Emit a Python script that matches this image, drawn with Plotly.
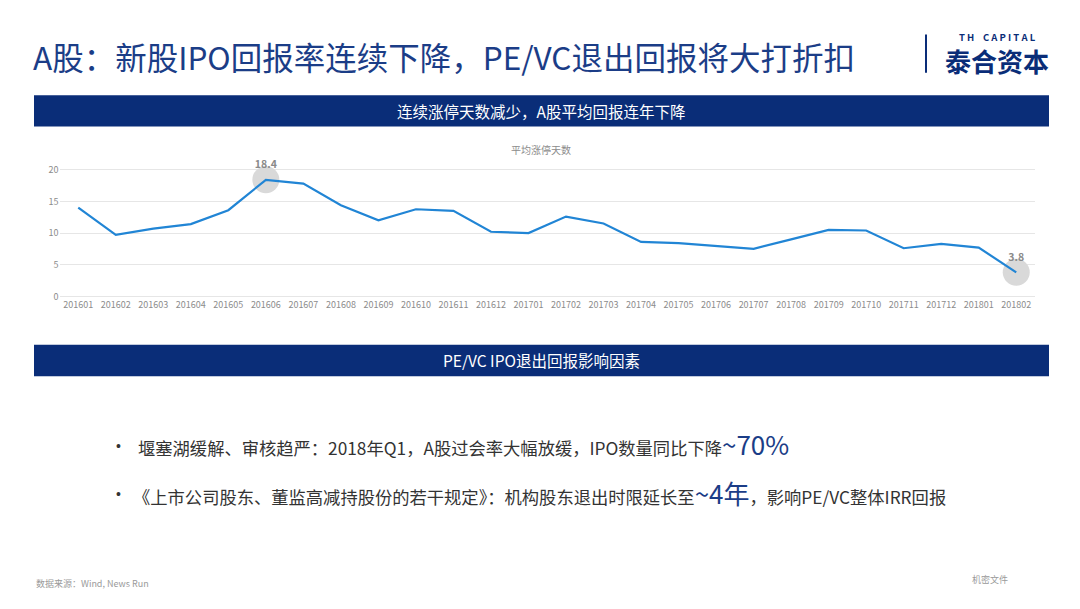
import plotly.graph_objects as go

months = ["201601","201602","201603","201604","201605","201606","201607","201608","201609",
          "201610","201611","201612","201701","201702","201703","201704","201705","201706",
          "201707","201708","201709","201710","201711","201712","201801","201802"]
avg_limit_days = [14.0, 9.7, 10.7, 11.4, 13.6, 18.4, 17.8, 14.4, 12.0, 13.75, 13.5, 10.2, 10.0,
                  12.6, 11.5, 8.6, 8.4, 8.0, 7.5, 9.0, 10.5, 10.4, 7.6, 8.3, 7.7, 3.8]
highlight_idx = [5, 25]
y_ticks = [0, 5, 10, 15, 20]

W, H = 1080, 609
NAVY = "#0a2d78"
TITLE_BLUE = "#1b3d87"
FONT = "Noto Sans CJK SC"

def px(x):
    return x / W

def py(y):
    return 1 - y / H

fig = go.Figure()

hx = [months[i] for i in highlight_idx]
hy = [avg_limit_days[i] for i in highlight_idx]
fig.add_trace(go.Scatter(x=months, y=avg_limit_days, mode="lines",
                         line=dict(color="rgba(0,0,0,0)", width=0), hoverinfo="skip",
                         showlegend=False))
fig.add_trace(go.Scatter(x=hx, y=hy, mode="markers",
                         marker=dict(size=27, color="#d9d9d9"),
                         hoverinfo="skip", showlegend=False, cliponaxis=False))
fig.add_trace(go.Scatter(x=months, y=avg_limit_days, mode="lines",
                         line=dict(color="#2185d5", width=2.2), showlegend=False))
fig.add_trace(go.Scatter(x=hx, y=hy, mode="markers+text",
                         marker=dict(size=13, color="rgba(0,0,0,0)"),
                         text=[f"<b>{v}</b>" for v in hy], textposition="top center",
                         textfont=dict(color="#8a8a8a", size=10.5, family=FONT),
                         hoverinfo="skip", showlegend=False, cliponaxis=False))

fig.update_layout(
    width=W, height=H,
    margin=dict(l=0, r=0, t=0, b=0),
    paper_bgcolor="white", plot_bgcolor="white",
    font=dict(family=FONT),
    xaxis=dict(domain=[px(59.5), px(1035)], type="category", categoryorder="array",
               categoryarray=months, showgrid=False,
               showline=False, ticks="", tickfont=dict(size=9, color="#8c8c8c"),
               range=[-0.5, 25.5], fixedrange=True),
    yaxis=dict(domain=[py(297), py(165.4)], range=[-0.2, 20.2], tickvals=y_ticks,
               showgrid=True, gridcolor="#e6e6e6", gridwidth=1, zeroline=False,
               showline=False, tickfont=dict(size=9, color="#8c8c8c"), ticksuffix="  ",
               fixedrange=True),
)

shapes = [
    dict(type="rect", xref="paper", yref="paper", x0=px(34), x1=px(1049), y0=py(122.7), y1=py(91),
         fillcolor=NAVY, line=dict(width=0), layer="below"),
    dict(type="rect", xref="paper", yref="paper", x0=px(34), x1=px(1049), y0=py(377), y1=py(345),
         fillcolor=NAVY, line=dict(width=0), layer="below"),
    dict(type="line", xref="paper", yref="paper", x0=px(926), x1=px(926), y0=py(68), y1=py(29),
         line=dict(color=NAVY, width=2)),
]
fig.update_layout(shapes=shapes)

ann = []
def text(x, y, s, size, color, xanchor="left", yanchor="middle", family=FONT):
    ann.append(dict(x=px(x), y=py(y), xref="paper", yref="paper", text=s, showarrow=False,
                    xanchor=xanchor, yanchor=yanchor, font=dict(size=size, color=color, family=family)))

text(31, 51, "A股：新股IPO回报率连续下降，PE/VC退出回报将大打折扣", 31.5, TITLE_BLUE)
text(997, 32, "<b>T H    C A P I T A L</b>", 9.5, NAVY, xanchor="center")
text(997, 55, "<b>泰合资本</b>", 26, NAVY, xanchor="center")
text(541, 107, "连续涨停天数减少，A股平均回报连年下降", 15.5, "white", xanchor="center")
text(541, 146, "平均涨停天数", 10, "#8c8c8c", xanchor="center")
text(541, 361, "PE/VC IPO退出回报影响因素", 15.5, "white", xanchor="center")
text(114, 448, "•", 14, "#333333", family="Liberation Sans")
text(114, 497, "•", 14, "#333333", family="Liberation Sans")
text(136, 446, "堰塞湖缓解、审核趋严：2018年Q1，A股过会率大幅放缓，IPO数量同比下降"
               f"<span style='font-size:26px;color:{TITLE_BLUE}'>~70%</span>", 17.3, "#333333")
text(131, 495, "《上市公司股东、董监高减持股份的若干规定》：机构股东退出时限延长至"
               f"<span style='font-size:26px;color:{TITLE_BLUE}'>~4年</span>，影响PE/VC整体IRR回报",
     17.3, "#333333")
text(34, 588, "数据来源：Wind, News Run", 9, "#9a9a9a")
text(990, 584, "机密文件", 9, "#9a9a9a", xanchor="center")
fig.update_layout(annotations=ann)

fig.write_html("out.html", config={"displayModeBar": False},
               post_script="document.body.style.margin='0';")
